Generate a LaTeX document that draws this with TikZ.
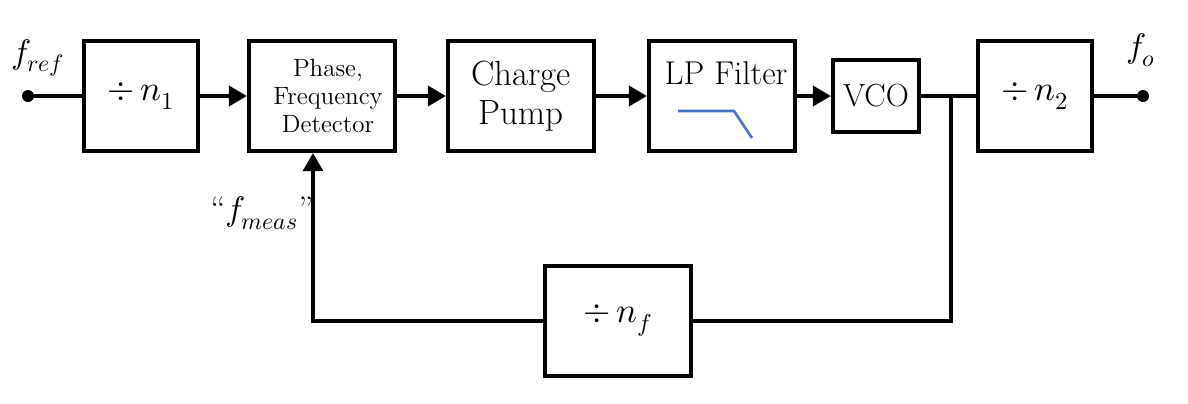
\documentclass[tikz,border=0pt]{standalone}
\usepackage{unicode-math}
\usetikzlibrary{arrows.meta}
\definecolor{filterblue}{RGB}{68,114,196}
\begin{document}
\begin{tikzpicture}[x=.5pt,y=-.5pt,
  blk/.style={draw,line width=2.1pt,inner sep=0pt,align=center,
    font=\fontsize{17.5}{19.5}\selectfont},
  sig/.style={line width=1.8pt},
  fwd/.style={sig,-{Triangle[length=9pt,width=10pt]}},
  lbl/.style={font=\fontsize{17}{19}\selectfont},
  dot/.style={circle,fill,inner sep=0pt,minimum size=6pt}]
  \useasboundingbox (0,0) rectangle (1188,403);
  % forward path
  \node[dot] (fin) at (28,96) {};
  \node[blk,minimum width=57pt,minimum height=55pt] (n1) at (141,96) {$\div\, n_1$};
  \node[blk,minimum width=73pt,minimum height=55pt,font=\fontsize{12.5}{14}\selectfont] (pfd) at (322,96)
    {\hspace{6pt}Phase,\\\hspace{6pt}Frequency\\\hspace{6pt}Detector};
  \node[blk,minimum width=73pt,minimum height=55pt] (cp) at (521,96) {Charge\\Pump};
  \node[blk,minimum width=73pt,minimum height=55pt] (lp) at (722,96) {};
  \node[font=\fontsize{16.5}{18}\selectfont] (lptext) at (726,73) {LP Filter};
  \node[blk,minimum width=43pt,minimum height=36pt,font=\fontsize{16}{18}\selectfont] (vco) at (876,96) {VCO};
  \node[blk,minimum width=57pt,minimum height=55pt] (n2) at (1035,96) {$\div\, n_2$};
  \node[dot] (fout) at (1143,96) {};
  \node[blk,minimum width=73pt,minimum height=55pt] (nf) at (618,321) {$\div\, n_f$};
  % filter sketch
  \draw[filterblue,line width=1.3pt] (678,111) -- (734,111) -- (752,138);
  % labels
  \node[lbl] (fref) at (38,58) {$f_{ref}$};
  \node[lbl] (fo) at (1141,50) {$f_o$};
  \node[lbl] (fmeas) at (262,213) {“$f_{meas}$”};
  % connectors
  \draw[sig] (fin) -- (n1);
  \draw[fwd] (n1) -- (pfd);
  \draw[fwd] (pfd) -- (cp);
  \draw[fwd] (cp) -- (lp);
  \draw[fwd] (lp) -- (vco);
  \draw[sig] (vco) -- (n2);
  \draw[sig] (n2) -- (fout);
  \coordinate (split) at (951,96);
  \coordinate (meas) at (313,321);
  \draw[sig,line width=1.6pt] (split) |- (nf);
  \draw[fwd,line width=1.6pt] (nf) -- (meas) -- (meas |- pfd.south);
\end{tikzpicture}
\end{document}
